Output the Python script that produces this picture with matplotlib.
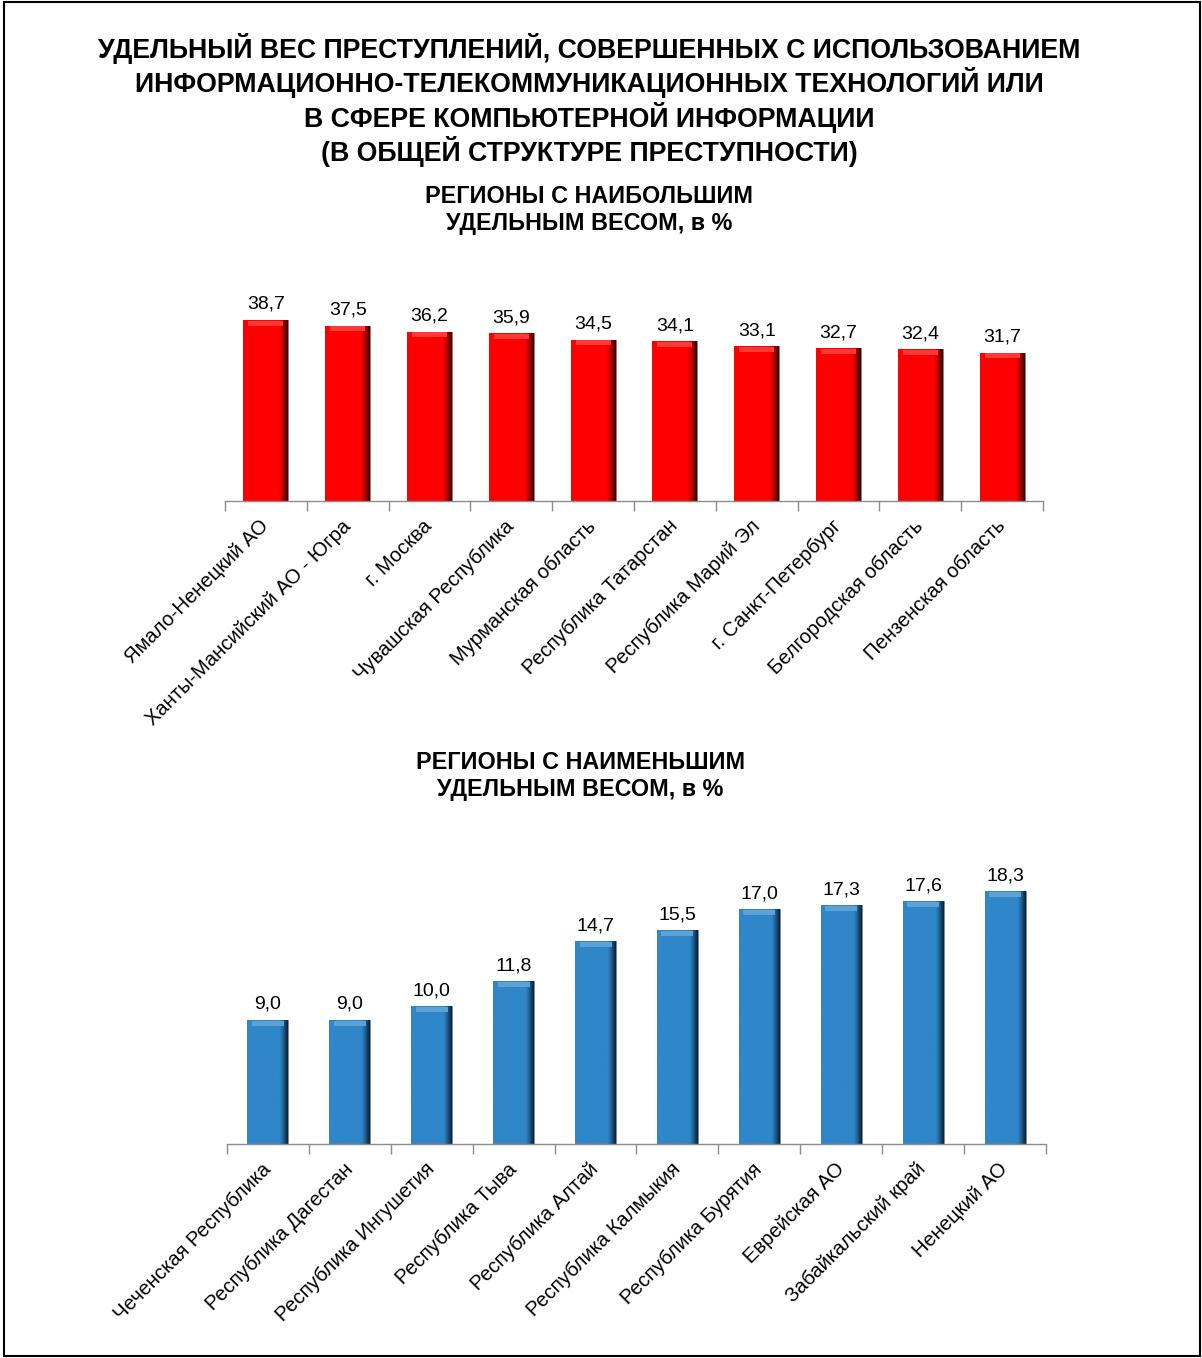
"""Удельный вес преступлений с использованием ИТТ: регионы с наибольшим и наименьшим удельным весом."""

import numpy as np
import matplotlib
matplotlib.use("Agg")
import matplotlib.pyplot as plt
from matplotlib.patches import Rectangle
from matplotlib.colors import to_rgb

plt.rcParams.update({
    "font.family": ["Liberation Sans", "DejaVu Sans"],
    "font.size": 14,
})

# --- Data ---
top_regions = [
    "Ямало-Ненецкий АО", "Ханты-Мансийский АО - Югра", "г. Москва",
    "Чувашская Республика", "Мурманская область", "Республика Татарстан",
    "Республика Марий Эл", "г. Санкт-Петербург", "Белгородская область",
    "Пензенская область",
]
top_values = [38.7, 37.5, 36.2, 35.9, 34.5, 34.1, 33.1, 32.7, 32.4, 31.7]

low_regions = [
    "Чеченская Республика", "Республика Дагестан", "Республика Ингушетия",
    "Республика Тыва", "Республика Алтай", "Республика Калмыкия",
    "Республика Бурятия", "Еврейская АО", "Забайкальский край", "Ненецкий АО",
]
low_values = [9.0, 9.0, 10.0, 11.8, 14.7, 15.5, 17.0, 17.3, 17.6, 18.3]

W, H = 1202, 1358
fig = plt.figure(figsize=(W / 100, H / 100), dpi=100)

# frame around the whole picture
fig.patches.append(Rectangle((4 / W, 2 / H), 1196 / W, 1354 / H, transform=fig.transFigure,
                             fill=False, edgecolor="black", linewidth=1.5))

fig.text(0.49, 1 - 100 / H,
         "УДЕЛЬНЫЙ ВЕС ПРЕСТУПЛЕНИЙ, СОВЕРШЕННЫХ С ИСПОЛЬЗОВАНИЕМ\n"
         "ИНФОРМАЦИОННО-ТЕЛЕКОММУНИКАЦИОННЫХ ТЕХНОЛОГИЙ ИЛИ\n"
         "В СФЕРЕ КОМПЬЮТЕРНОЙ ИНФОРМАЦИИ\n"
         "(В ОБЩЕЙ СТРУКТУРЕ ПРЕСТУПНОСТИ)",
         ha="center", va="center", fontsize=19.3, fontweight="bold", linespacing=1.13)


def bevel_bars(ax, labels, values, color, dark, width, px_per_unit, ylim, title, title_y, title_x):
    x = np.arange(len(labels))
    bars = ax.bar(x, values, width, color=color, edgecolor="#808080", linewidth=0.6, zorder=2)
    base = np.array(to_rgb(color))
    dk = np.array(to_rgb(dark))
    # horizontal shading: darker towards the right edge
    t = np.linspace(0, 1, 60)
    k = np.clip((t - 0.8) / 0.2, 0, 1) ** 1.2
    grad = base[None, :] * (1 - k[:, None]) + dk[None, :] * k[:, None]
    img = grad[None, :, :]
    for b in bars:
        im = ax.imshow(img, extent=(b.get_x(), b.get_x() + b.get_width(), 0, b.get_height()),
                       aspect="auto", interpolation="bilinear", zorder=2.5)
        im.set_clip_path(b)
    # light bevel strip at the top of each bar
    hl = 5 / px_per_unit
    light = tuple(base + (1 - base) * 0.22)
    ax.bar(x, [hl] * len(values), width * 0.78, bottom=np.array(values) - hl * 1.15,
           color=light, linewidth=0, zorder=3, align="center")
    for xi, v in zip(x, values):
        ax.annotate(f"{v:.1f}".replace(".", ","), (xi, v), xytext=(0, 5),
                    textcoords="offset points", ha="center", va="bottom", fontsize=14)
    ax.set_xlim(-0.5, len(labels) - 0.5)
    ax.set_ylim(*ylim)
    ax.set_xticks(x)
    ax.set_xticklabels(labels, rotation=45, ha="right", va="center",
                       rotation_mode="anchor", fontsize=14.5)
    ax.set_xticks(np.arange(len(labels) + 1) - 0.5, minor=True)
    ax.tick_params(axis="x", which="major", length=0, pad=16)
    ax.tick_params(axis="x", which="minor", length=7, color="#8c8c8c", width=1)
    ax.set_yticks([])
    for s in ["top", "right", "left"]:
        ax.spines[s].set_visible(False)
    ax.spines["bottom"].set_color("#8c8c8c")
    ax.spines["bottom"].set_linewidth(1)
    fig.text(title_x, 1 - title_y / H, title, ha="center", va="center",
             fontsize=16.8, fontweight="bold", linespacing=1.22)


# top chart: baseline at y=501 px, 4.68 px per unit
ax1 = fig.add_axes([225 / W, (H - 501) / H, 818 / W, 45 * 4.68 / H])
bevel_bars(ax1, top_regions, top_values, "#ff0000", "#3a0000", 0.55, 4.68, (0, 45),
           "РЕГИОНЫ С НАИБОЛЬШИМ\nУДЕЛЬНЫМ ВЕСОМ, в %", 210, 0.49)

# bottom chart: baseline at y=1144 px, 13.8 px per unit
ax2 = fig.add_axes([227 / W, (H - 1144) / H, 819 / W, 20 * 13.8 / H])
bevel_bars(ax2, low_regions, low_values, "#2f86c9", "#0b2236", 0.5, 13.8, (0, 20),
           "РЕГИОНЫ С НАИМЕНЬШИМ\nУДЕЛЬНЫМ ВЕСОМ, в %", 776, 0.483)

fig.savefig("out.png", dpi=100)
